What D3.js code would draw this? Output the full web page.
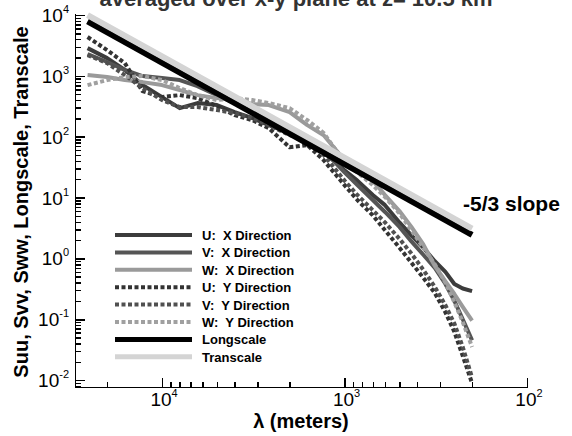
<!DOCTYPE html>
<html><head><meta charset="UTF-8"><script src="https://d3js.org/d3.v7.min.js"></script>
<style>
  body { margin: 0; background: #fff; }
  svg { font-family: Arial, "Liberation Sans", sans-serif; }
  .axis path, .axis line { stroke: #000; stroke-width: 1.5px; shape-rendering: crispEdges; }
  .leg text { white-space: pre; }
</style></head>
<body><div id="chart"></div><script>
// wavelength samples (m) and spectra
const lambda = [25600, 20000, 16000, 12800, 10000, 8000, 6400, 5000, 4000, 3200, 2600, 2000, 1600, 1300, 1000, 850, 700, 600, 500, 430, 370, 320, 280, 250, 225, 200];
const uX = [2860, 1960, 1250, 706, 448, 295, 357, 331, 254, 202, 155, 115, 81, 56, 28, 19, 11, 7.5, 3.9, 2.4, 1.5, 0.9, 0.6, 0.38, 0.32, 0.29];
const vX = [2290, 1690, 1250, 993, 920, 853, 680, 483, 357, 254, 187, 128, 88, 60, 26, 16, 9.1, 5.8, 3.3, 1.9, 1.15, 0.7, 0.38, 0.2, 0.1, 0.045];
const wX = [1030, 955, 853, 790, 706, 584, 483, 431, 400, 344, 331, 254, 155, 106, 41, 34, 19, 11, 6.0, 3.3, 1.7, 0.75, 0.42, 0.26, 0.16, 0.095];
const uY = [4350, 2650, 1620, 560, 448, 483, 431, 318, 226, 187, 138, 67, 73, 41, 16, 9.1, 5.1, 2.9, 1.5, 0.85, 0.48, 0.27, 0.13, 0.062, 0.025, 0.0089];
const vY = [2200, 1620, 1030, 630, 400, 307, 307, 274, 245, 202, 155, 106, 88, 50, 19, 11, 6.2, 3.9, 2.1, 1.2, 0.65, 0.34, 0.17, 0.085, 0.035, 0.011];
const wY = [706, 853, 955, 993, 853, 630, 483, 400, 431, 400, 357, 295, 187, 115, 38, 26, 16, 10.2, 5.5, 2.9, 1.5, 0.8, 0.4, 0.19, 0.09, 0.035];
// -5/3 reference lines (end points)
const lambdaRef = [25600, 200];
const longscale = [7900, 2.43];
const transcale = [10000, 3.1];

const seriesNames = ['U:  X Direction', 'V:  X Direction', 'W:  X Direction',
                     'U:  Y Direction', 'V:  Y Direction', 'W:  Y Direction',
                     'Longscale', 'Transcale'];
const xTicks = [1e4, 1e3, 1e2];
const yTicks = [1e-2, 1e-1, 1e0, 1e1, 1e2, 1e3, 1e4];

const styles = [
  {c: '#3c3c3c', w: 4, dash: null},
  {c: '#555555', w: 4, dash: null},
  {c: '#9a9a9a', w: 4, dash: null},
  {c: '#333333', w: 4, dash: '4,2.5'},
  {c: '#505050', w: 4, dash: '4,2.5'},
  {c: '#a0a0a0', w: 4, dash: '4,2.5'},
  {c: '#000000', w: 6, dash: null},
  {c: '#d4d4d4', w: 6, dash: null}
];

const W = 572, H = 436;
const svg = d3.select('#chart').append('svg').attr('width', W).attr('height', H);

const x = d3.scaleLog().domain([30000, 100]).range([75, 527]);
const y = d3.scaleLog().domain([0.0077, 10800]).range([387, 13]);

// title (cut off at the top, as in the source figure)
svg.append('text')
  .attr('x', 296).attr('y', 6)
  .attr('text-anchor', 'middle')
  .attr('font-size', 22).attr('font-weight', 'bold').attr('fill', '#333')
  .text('averaged over x-y plane at z= 10.5 km');

function minors(lo, hi) {
  const out = [];
  for (let e = Math.floor(Math.log10(lo)); e <= Math.ceil(Math.log10(hi)); e++) {
    for (let k = 2; k <= 9; k++) {
      const v = k * Math.pow(10, e);
      if (v > lo && v < hi) out.push(v);
    }
  }
  return out;
}

// axes (ticks point inward)
const yAxis = svg.append('g').attr('class', 'axis').attr('transform', 'translate(75,0)');
yAxis.call(d3.axisLeft(y).tickValues(yTicks).tickSize(-10).tickSizeOuter(0).tickFormat(''));
yAxis.append('g').call(d3.axisLeft(y).tickValues(minors(0.0077, 10800)).tickSize(-6).tickSizeOuter(0).tickFormat(''))
  .select('.domain').remove();

const xAxis = svg.append('g').attr('class', 'axis').attr('transform', 'translate(0,387)');
xAxis.call(d3.axisBottom(x).tickValues(xTicks).tickSize(-9).tickSizeOuter(0).tickFormat(''));
xAxis.append('g').call(d3.axisBottom(x).tickValues(minors(100, 30000)).tickSize(-5).tickSizeOuter(0).tickFormat(''))
  .select('.domain').remove();

// tick labels with superscripts
yTicks.forEach(v => {
  const t = svg.append('text').attr('x', 69).attr('y', y(v) + 7)
    .attr('text-anchor', 'end').attr('font-size', 19);
  t.append('tspan').text('10');
  t.append('tspan').attr('font-size', 11).attr('dy', -9).text(Math.round(Math.log10(v)));
});
xTicks.forEach(v => {
  const t = svg.append('text').attr('x', x(v) + 2).attr('y', 406)
    .attr('text-anchor', 'middle').attr('font-size', 19);
  t.append('tspan').text('10');
  t.append('tspan').attr('font-size', 11).attr('dy', -9).text(Math.round(Math.log10(v)));
});

// axis titles
svg.append('text')
  .attr('x', 301).attr('y', 428)
  .attr('text-anchor', 'middle')
  .attr('font-size', 20).attr('font-weight', 'bold')
  .text('λ (meters)');
svg.append('text')
  .attr('transform', 'translate(28,202) rotate(-90)')
  .attr('text-anchor', 'middle')
  .attr('font-size', 20).attr('font-weight', 'bold')
  .text('Suu, Svv, Sww, Longscale, Transcale');

// curves
const line = d3.line().x(d => x(d[0])).y(d => y(d[1]));
const spectra = [uX, vX, wX, uY, vY, wY];
const allSeries = spectra.map(s => lambda.map((l, i) => [l, s[i]]))
  .concat([lambdaRef.map((l, i) => [l, longscale[i]]), lambdaRef.map((l, i) => [l, transcale[i]])]);

svg.append('g').selectAll('path')
  .data(allSeries)
  .join('path')
  .attr('d', line)
  .attr('fill', 'none')
  .attr('stroke', (d, i) => styles[i].c)
  .attr('stroke-width', (d, i) => styles[i].w)
  .attr('stroke-dasharray', (d, i) => styles[i].dash)
  .attr('stroke-linejoin', 'round');

svg.append('text')
  .attr('x', 463).attr('y', 211)
  .attr('font-size', 21).attr('font-weight', 'bold')
  .text('-5/3 slope');

// legend
const leg = svg.append('g').attr('class', 'leg');
seriesNames.forEach((name, i) => {
  const yy = 235 + i * 17.4;
  leg.append('line')
    .attr('x1', 115).attr('x2', 192).attr('y1', yy).attr('y2', yy)
    .attr('stroke', styles[i].c)
    .attr('stroke-width', i >= 6 ? 5 : 4)
    .attr('stroke-dasharray', styles[i].dash);
  leg.append('text')
    .attr('x', 202).attr('y', yy + 5)
    .attr('font-size', 13).attr('font-weight', 'bold')
    .text(name);
});
</script></body></html>
